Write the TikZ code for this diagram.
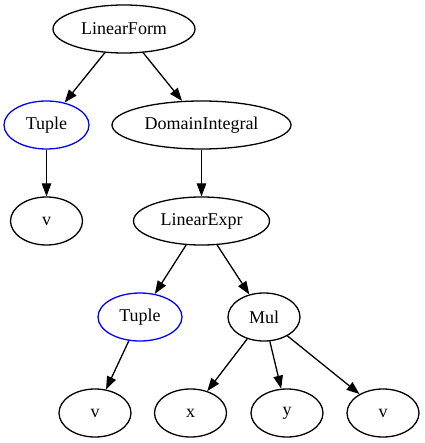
\documentclass[tikz,border=0pt]{standalone}
\usepackage{fontspec}
\setmainfont{Liberation Serif}
\usetikzlibrary{shapes.geometric,arrows.meta}
\begin{document}
\begin{tikzpicture}[x=1pt,y=-1pt,
  nd/.style={ellipse,draw,line width=1.3pt,inner sep=0pt,minimum height=48pt,font=\fontsize{18}{20}\selectfont},
  bl/.style={nd,draw=blue},
  ed/.style={line width=1.3pt,-{Triangle[length=13pt,width=9.5pt]}}]
\useasboundingbox (0,0) rectangle (424,443);
\node[nd,minimum width=142pt] (lf) at (124,29) {LinearForm};
\node[bl,minimum width=85pt] (t1) at (46.5,125) {Tuple};
\node[nd,minimum width=179pt] (di) at (201.5,125) {DomainIntegral};
\node[nd,minimum width=72pt] (v1) at (46.5,221) {v};
\node[nd,minimum width=136pt] (le) at (201.5,221) {LinearExpr};
\node[bl,minimum width=84pt] (t2) at (140,317) {Tuple};
\node[nd,minimum width=72pt] (mul) at (264,317) {Mul};
\node[nd,minimum width=72pt] (v2) at (95,413) {v};
\node[nd,minimum width=72pt] (x) at (190.5,413) {x};
\node[nd,minimum width=72pt] (y) at (287,413) {y};
\node[nd,minimum width=72pt] (v3) at (383,413) {v};
\draw[ed] (lf) -- (t1);
\draw[ed] (lf) -- (di);
\draw[ed] (t1) -- (v1);
\draw[ed] (di) -- (le);
\draw[ed] (le) -- (t2);
\draw[ed] (le) -- (mul);
\draw[ed] (t2) -- (v2);
\draw[ed] (mul) -- (x);
\draw[ed] (mul) -- (y);
\draw[ed] (mul) -- (v3);
\end{tikzpicture}
\end{document}
